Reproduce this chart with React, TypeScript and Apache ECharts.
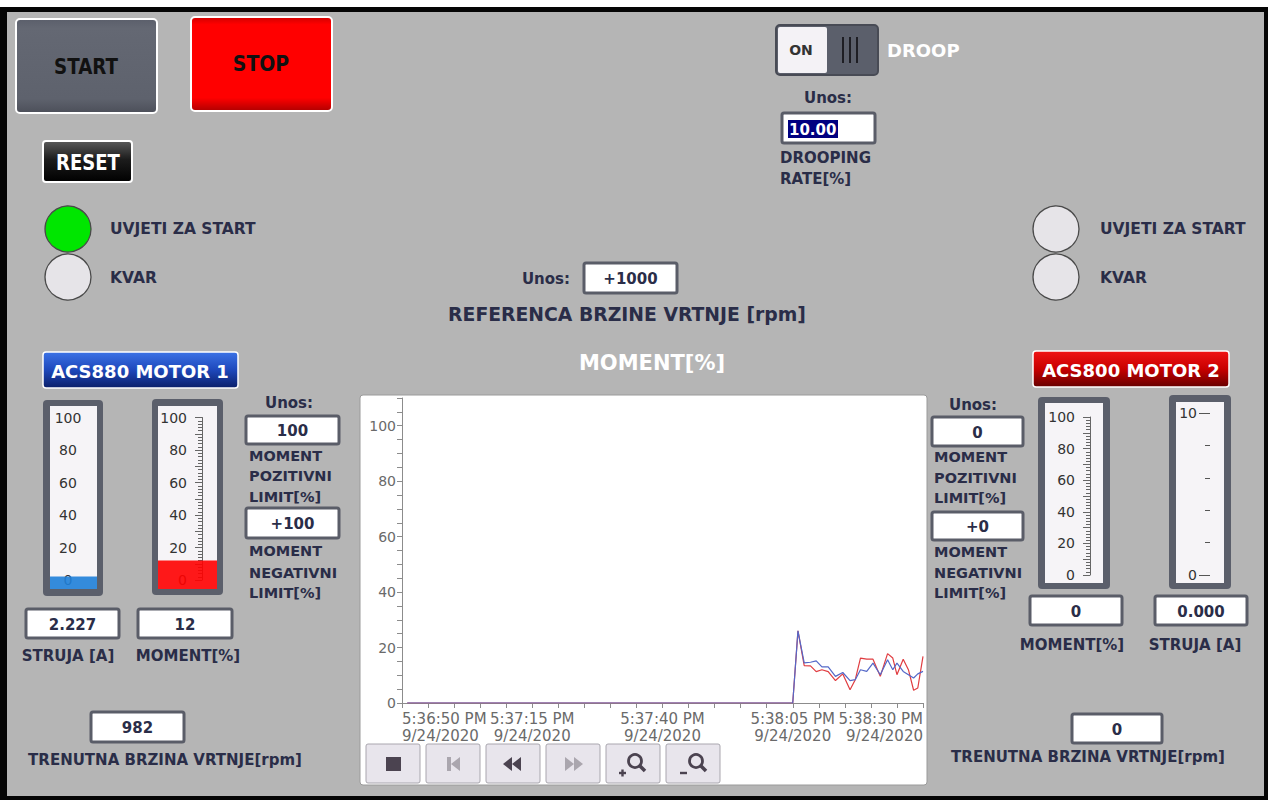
import React, { useEffect, useRef } from "react";
import * as echarts from "echarts";

// ---------------- data ----------------
const trendStartSeconds = 17 * 3600 + 36 * 60 + 50; // 5:36:50 PM
const trendDate = "9/24/2020";
const trendTimes = [1, 75, 76, 77.2, 78.4, 79.5, 80.6, 81.8, 83.2, 84.6, 86.0, 87.0, 88.0, 89.2, 90.4, 91.8, 93.2, 94.2, 95.0, 96.2, 97.2, 98.2, 99.0, 100];
const trendRed = [0, 0, 26, 13.5, 13.4, 11.3, 12.0, 11.3, 8.1, 10.5, 4.8, 8.4, 16.2, 15.8, 15.8, 9.6, 17.8, 16.2, 10.2, 15.8, 12.0, 4.6, 5.4, 16.8];
const trendBlue = [0, 0, 26, 14.5, 14.7, 15.2, 13.0, 13.0, 9.6, 11.0, 8.1, 8.4, 12.0, 11.4, 14.4, 10.2, 15.6, 12.0, 14.4, 11.4, 10.2, 9.0, 10.5, 11.4];
const trendXMax = 100;
const trendXStep = 25;
const trendYMax = 110;
const trendYLabelStep = 20;

const motor1Current = 2.227;
const motor1Moment = 12;
const motor1Speed = 982;
const motor1PosLimit = "100";
const motor1NegLimit = "+100";
const motor2Moment = 0;
const motor2Current = 0;
const motor2Speed = 0;
const motor2PosLimit = "0";
const motor2NegLimit = "+0";
const speedReference = "+1000";
const droopRate = "10.00";

const percentScale = [0, 100, 20]; // min, max, label step
const currentScale2 = [0, 10, 10];

// ---------------- styling helpers ----------------
const FONT = '"DejaVu Sans", Verdana, sans-serif';
const NAVY = "#2a2d48";

function pad2(n: number) {
  return n < 10 ? "0" + n : String(n);
}
function clockLabel(sec: number) {
  const total = Math.round(trendStartSeconds + sec);
  const h = Math.floor(total / 3600) % 24;
  const m = Math.floor((total % 3600) / 60);
  const s = total % 60;
  const h12 = h % 12 === 0 ? 12 : h % 12;
  return `${h12}:${pad2(m)}:${pad2(s)} ${h >= 12 ? "PM" : "AM"}\n${trendDate}`;
}

function txt(x: number, y: number, text: string, size: number, o: any = {}) {
  return {
    type: "text",
    x,
    y,
    z: 100,
    scaleX: o.scaleX || 1,
    silent: true,
    style: {
      text,
      fill: o.fill || NAVY,
      font: `${o.weight || "bold"} ${size}px ${FONT}`,
      align: o.align || "left",
      verticalAlign: "middle",
    },
  };
}
function rect(x0: number, y0: number, x1: number, y1: number, style: any, z = 5, r = 3) {
  return { type: "rect", z, shape: { x: x0, y: y0, width: x1 - x0, height: y1 - y0, r }, style };
}
function box(x0: number, y0: number, x1: number, y1: number, text: string, size = 15) {
  return [
    rect(x0, y0, x1, y1, { fill: "#ffffff", stroke: "#5a5d68", lineWidth: 3 }, 5, 2),
    txt((x0 + x1) / 2, (y0 + y1) / 2 + 1, text, size, { align: "center" }),
  ];
}
function vgrad(stops: [number, string][]) {
  return new echarts.graphic.LinearGradient(0, 0, 0, 1, stops.map(([offset, color]) => ({ offset, color })));
}

// gauge geometry (layout only)
const gauges = [
  { frame: [43, 400, 103, 596], inner: [50, 406, 97, 589], zeroY: 580, topY: 417.5, axisX: 50, axisW: 47, kind: "plain", color: "#1f7fd8" },
  { frame: [152, 399, 223, 595], inner: [158, 406, 217, 589], zeroY: 580, topY: 417.5, axisX: 202, axisW: 15, kind: "ruler", color: "#ff0000" },
  { frame: [1038, 397, 1110, 589], inner: [1045, 403, 1103, 583], zeroY: 575, topY: 417, axisX: 1090, axisW: 13, kind: "ruler", color: "#ff0000" },
  { frame: [1169, 395, 1231, 589], inner: [1176, 402, 1224, 583], zeroY: 575, topY: 413, axisX: 1210, axisW: 14, kind: "dash", color: "#1f7fd8" },
];
const gaugeValues = [motor1Current, motor1Moment, motor2Moment, motor2Current];
const gaugeScales = [percentScale, percentScale, percentScale, currentScale2];

export default function App() {
  const ref = useRef<HTMLDivElement>(null);
  useEffect(() => {
    if (!ref.current) return;
    const chart = echarts.init(ref.current, undefined, { renderer: "svg" });

    const grids: any[] = [{ left: 402, top: 398, width: 521, height: 305 }];
    const xAxes: any[] = [
      {
        type: "value",
        gridIndex: 0,
        min: 0,
        max: trendXMax,
        interval: trendXStep,
        axisLine: { show: true, lineStyle: { color: "#8c8c8c" } },
        axisTick: { show: true, length: 5, lineStyle: { color: "#8c8c8c" } },
        minorTick: { show: true, splitNumber: 5, length: 5, lineStyle: { color: "#8c8c8c" } },
        splitLine: { show: false },
        axisLabel: {
          formatter: (v: number) => clockLabel(v),
          color: "#6a6a6a",
          fontSize: 15,
          fontFamily: FONT,
          lineHeight: 17,
          margin: 7,
          alignMinLabel: "left",
          alignMaxLabel: "right",
        },
      },
    ];
    const yAxes: any[] = [
      {
        type: "value",
        gridIndex: 0,
        min: 0,
        max: trendYMax,
        interval: 10,
        axisLine: { show: true, lineStyle: { color: "#8c8c8c" } },
        axisTick: { show: true, length: 5, lineStyle: { color: "#8c8c8c" } },
        minorTick: { show: true, splitNumber: 2, length: 5, lineStyle: { color: "#8c8c8c" } },
        splitLine: { show: false },
        axisLabel: {
          formatter: (v: number) => (v % trendYLabelStep === 0 ? String(v) : ""),
          color: "#6a6a6a",
          fontSize: 14,
          fontFamily: FONT,
          margin: 6,
        },
      },
    ];
    const series: any[] = [
      {
        type: "line",
        xAxisIndex: 0,
        yAxisIndex: 0,
        data: trendTimes.map((t, i) => [t, trendRed[i]]),
        symbol: "none",
        lineStyle: { color: "#e03c40", width: 1.2 },
      },
      {
        type: "line",
        xAxisIndex: 0,
        yAxisIndex: 0,
        data: trendTimes.map((t, i) => [t, trendBlue[i]]),
        symbol: "none",
        lineStyle: { color: "#5468c8", width: 1.2 },
      },
    ];

    gauges.forEach((g, i) => {
      const [smin, smax, sstep] = gaugeScales[i];
      const ppu = (g.zeroY - g.topY) / (smax - smin);
      const [ix0, iy0, ix1, iy1] = g.inner;
      const barGrid = grids.length;
      grids.push({ left: ix0, top: iy0, width: ix1 - ix0, height: iy1 - iy0 });
      xAxes.push({ type: "category", gridIndex: barGrid, data: [""], show: false });
      const floorVal = smin - (iy1 - g.zeroY) / ppu;
      yAxes.push({ type: "value", gridIndex: barGrid, min: floorVal, max: smin + (g.zeroY - iy0) / ppu, show: false, splitLine: { show: false } });
      const v = gaugeValues[i];
      series.push({
        type: "bar",
        xAxisIndex: barGrid,
        yAxisIndex: barGrid,
        stack: "g" + i,
        barWidth: "100%",
        data: [v],
        itemStyle: { color: g.color, opacity: 0.9 },
        silent: true,
      });
      series.push({
        type: "bar",
        xAxisIndex: barGrid,
        yAxisIndex: barGrid,
        stack: "g" + i,
        barWidth: "100%",
        data: [v > smin ? floorVal : 0],
        itemStyle: { color: g.color, opacity: 0.9 },
        silent: true,
      });

      const axGrid = grids.length;
      grids.push({ left: g.axisX, top: g.topY, width: g.axisW, height: g.zeroY - g.topY });
      xAxes.push({ type: "value", gridIndex: axGrid, show: false });
      const base: any = {
        type: "value",
        gridIndex: axGrid,
        min: smin,
        max: smax,
        splitLine: { show: false },
      };
      if (g.kind === "plain") {
        yAxes.push({
          ...base,
          interval: sstep,
          axisLine: { show: false },
          axisTick: { show: false },
          axisLabel: { inside: true, margin: 18, align: "center", color: "#333", fontSize: 14, fontFamily: FONT },
        });
      } else if (g.kind === "ruler") {
        yAxes.push({
          ...base,
          interval: 10,
          axisLine: { show: true, lineStyle: { color: "#666", width: 1 } },
          axisTick: { show: true, length: 7, lineStyle: { color: "#666" } },
          minorTick: { show: true, splitNumber: 5, length: 4, lineStyle: { color: "#666" } },
          axisLabel: {
            formatter: (val: number) => (val % sstep === 0 ? String(val) : ""),
            margin: 15,
            color: "#333",
            fontSize: 14,
            fontFamily: FONT,
          },
        });
      } else {
        yAxes.push({
          ...base,
          interval: sstep,
          axisLine: { show: false },
          axisTick: { show: true, length: 11, lineStyle: { color: "#555" } },
          minorTick: { show: true, splitNumber: 5, length: 5, lineStyle: { color: "#555" } },
          axisLabel: { margin: 13, color: "#333", fontSize: 14, fontFamily: FONT },
        });
      }
    });

    const gfx: any[] = [];
    // page frame
    gfx.push(rect(0, 7, 1268, 800, { fill: "#050505" }, -30, 0));
    gfx.push(rect(7, 12, 1264, 796, { fill: "#b5b5b5" }, -29, 0));

    // START / STOP / RESET
    gfx.push(rect(16, 19, 157, 113, { fill: vgrad([[0, "#5b5f6b"], [0.1, "#646873"], [0.85, "#5e626d"], [1, "#4c4f59"]]), stroke: "#ffffff", lineWidth: 2 }, 5, 4));
    gfx.push(txt(86, 67, "START", 21, { align: "center", fill: "#111", scaleX: 0.87 }));
    gfx.push(rect(191, 17, 332, 111, { fill: vgrad([[0, "#d00000"], [0.08, "#ff0000"], [0.86, "#ff0000"], [1, "#b00000"]]), stroke: "#ffffff", lineWidth: 2 }, 5, 4));
    gfx.push(txt(261, 64, "STOP", 21, { align: "center", fill: "#111", scaleX: 0.9 }));
    gfx.push(rect(43, 141, 132, 182, { fill: vgrad([[0, "#5a5a5a"], [0.45, "#1c1c1c"], [1, "#000000"]]), stroke: "#ffffff", lineWidth: 2 }, 5, 3));
    gfx.push(txt(88, 162, "RESET", 22, { align: "center", fill: "#ffffff", scaleX: 0.82 }));

    // status lights
    const lights = [
      [68, 229, "#00e600"],
      [68, 277, "#e6e4e8"],
      [1056, 229, "#e6e4e8"],
      [1056, 277, "#e6e4e8"],
    ];
    lights.forEach(([cx, cy, fill]: any) => {
      gfx.push({ type: "circle", z: 5, shape: { cx, cy, r: 23 }, style: { fill, stroke: "#4a4a4a", lineWidth: 1.3 } });
    });
    gfx.push(txt(110, 229, "UVJETI ZA START", 15.5));
    gfx.push(txt(110, 278, "KVAR", 15.5));
    gfx.push(txt(1100, 229, "UVJETI ZA START", 15.5));
    gfx.push(txt(1100, 278, "KVAR", 15.5));

    // DROOP toggle
    gfx.push(rect(776, 25, 878, 75, { fill: "#5b5f6b", stroke: "#484b55", lineWidth: 2 }, 5, 4));
    gfx.push(rect(778, 27, 827, 73, { fill: "#f4f2f6" }, 6, 2));
    gfx.push(txt(801, 50, "ON", 14, { align: "center", fill: "#333" }));
    [843, 850, 857].forEach((x) => {
      gfx.push({ type: "line", z: 7, shape: { x1: x, y1: 37, x2: x, y2: 63 }, style: { stroke: "#1e1e24", lineWidth: 2 } });
    });
    gfx.push(txt(887, 50, "DROOP", 18, { fill: "#ffffff" }));
    gfx.push(txt(828, 98, "Unos:", 15, { align: "center" }));
    gfx.push(rect(782, 113, 875, 143, { fill: "#ffffff", stroke: "#5a5d68", lineWidth: 3 }, 5, 2));
    gfx.push(rect(788, 120, 838, 138, { fill: "#000080" }, 6, 0));
    gfx.push(txt(789, 130, droopRate, 15, { fill: "#ffffff" }));
    gfx.push(txt(780, 158, "DROOPING", 15));
    gfx.push(txt(780, 179, "RATE[%]", 15));

    // speed reference
    gfx.push(txt(570, 279, "Unos:", 15, { align: "right" }));
    gfx.push(...box(584, 263, 677, 293, speedReference));
    gfx.push(txt(627, 314, "REFERENCA BRZINE VRTNJE [rpm]", 20, { align: "center", scaleX: 0.94 }));

    // chart title and panel
    gfx.push(txt(652, 363, "MOMENT[%]", 21, { align: "center", fill: "#ffffff" }));
    gfx.push(rect(360, 395, 927, 785, { fill: "#ffffff", stroke: "#9a9a9a", lineWidth: 1 }, -20, 3));

    // trend toolbar
    const btnX = [366, 426, 486, 546, 606, 666];
    btnX.forEach((x) => gfx.push(rect(x, 744, x + 54, 783, { fill: "#e8e5ec", stroke: "#a9a6ae", lineWidth: 1 }, 5, 2)));
    const dark = "#4b4350";
    const dim = "#aaa6ae";
    gfx.push(rect(386, 757, 401, 771, { fill: dark }, 6, 0));
    gfx.push(rect(447, 757, 451, 771, { fill: dim }, 6, 0));
    gfx.push({ type: "polygon", z: 6, shape: { points: [[451, 764], [460, 757], [460, 771]] }, style: { fill: dim } });
    gfx.push({ type: "polygon", z: 6, shape: { points: [[503, 764], [512, 757], [512, 771]] }, style: { fill: dark } });
    gfx.push({ type: "polygon", z: 6, shape: { points: [[512, 764], [521, 757], [521, 771]] }, style: { fill: dark } });
    gfx.push({ type: "polygon", z: 6, shape: { points: [[583, 764], [574, 757], [574, 771]] }, style: { fill: dim } });
    gfx.push({ type: "polygon", z: 6, shape: { points: [[574, 764], [565, 757], [565, 771]] }, style: { fill: dim } });
    [[635, 761, "+"], [696, 761, "-"]].forEach(([cx, cy, sign]: any) => {
      gfx.push({ type: "circle", z: 6, shape: { cx, cy, r: 6.5 }, style: { fill: "none", stroke: dark, lineWidth: 2.8 } });
      gfx.push({ type: "line", z: 6, shape: { x1: cx + 4, y1: cy + 4, x2: cx + 10, y2: cy + 10 }, style: { stroke: dark, lineWidth: 3.5 } });
      gfx.push({ type: "line", z: 6, shape: { x1: cx - 16, y1: cy + 12, x2: cx - 9, y2: cy + 12 }, style: { stroke: dark, lineWidth: 2.4 } });
      if (sign === "+") {
        gfx.push({ type: "line", z: 6, shape: { x1: cx - 12.5, y1: cy + 8.5, x2: cx - 12.5, y2: cy + 15.5 }, style: { stroke: dark, lineWidth: 2.4 } });
      }
    });

    // motor labels
    gfx.push(rect(43, 352, 238, 388, { fill: vgrad([[0, "#3b72e6"], [0.5, "#1e48bb"], [1, "#0b1f6a"]]), stroke: "#ffffff", lineWidth: 1.5 }, 5, 3));
    gfx.push(txt(140, 371, "ACS880 MOTOR 1", 18, { align: "center", fill: "#ffffff" }));
    gfx.push(rect(1033, 351, 1229, 387, { fill: vgrad([[0, "#f01414"], [0.5, "#c80000"], [1, "#660000"]]), stroke: "#ffffff", lineWidth: 1.5 }, 5, 3));
    gfx.push(txt(1131, 370, "ACS800 MOTOR 2", 18, { align: "center", fill: "#ffffff" }));

    // gauge frames
    gauges.forEach((g) => {
      const [fx0, fy0, fx1, fy1] = g.frame;
      const [ix0, iy0, ix1, iy1] = g.inner;
      gfx.push(rect(fx0, fy0, fx1, fy1, { fill: "#5b5f6b" }, -15, 4));
      gfx.push(rect(ix0, iy0, ix1, iy1, { fill: "#f6f4f7" }, -14, 0));
    });

    // motor 1 fields
    gfx.push(...box(26, 609, 119, 638, motor1Current.toFixed(3)));
    gfx.push(...box(138, 609, 232, 638, String(motor1Moment)));
    gfx.push(txt(68, 656, "STRUJA [A]", 15, { align: "center" }));
    gfx.push(txt(188, 656, "MOMENT[%]", 15, { align: "center" }));
    gfx.push(txt(289, 403, "Unos:", 15, { align: "center" }));
    gfx.push(...box(246, 416, 339, 444, motor1PosLimit));
    gfx.push(txt(249, 456, "MOMENT", 14.5));
    gfx.push(txt(249, 476, "POZITIVNI", 14.5));
    gfx.push(txt(249, 497, "LIMIT[%]", 14.5));
    gfx.push(...box(246, 508, 339, 538, motor1NegLimit));
    gfx.push(txt(249, 551, "MOMENT", 14.5));
    gfx.push(txt(249, 573, "NEGATIVNI", 14.5));
    gfx.push(txt(249, 593, "LIMIT[%]", 14.5));
    gfx.push(...box(91, 712, 184, 742, String(motor1Speed)));
    gfx.push(txt(165, 760, "TRENUTNA BRZINA VRTNJE[rpm]", 15, { align: "center" }));

    // motor 2 fields
    gfx.push(txt(973, 405, "Unos:", 15, { align: "center" }));
    gfx.push(...box(932, 417, 1023, 446, motor2PosLimit));
    gfx.push(txt(934, 457, "MOMENT", 14.5));
    gfx.push(txt(934, 478, "POZITIVNI", 14.5));
    gfx.push(txt(934, 498, "LIMIT[%]", 14.5));
    gfx.push(...box(932, 512, 1023, 540, motor2NegLimit));
    gfx.push(txt(934, 552, "MOMENT", 14.5));
    gfx.push(txt(934, 573, "NEGATIVNI", 14.5));
    gfx.push(txt(934, 593, "LIMIT[%]", 14.5));
    gfx.push(...box(1030, 596, 1122, 625, String(motor2Moment)));
    gfx.push(...box(1155, 596, 1247, 625, motor2Current.toFixed(3)));
    gfx.push(txt(1072, 645, "MOMENT[%]", 15, { align: "center" }));
    gfx.push(txt(1195, 645, "STRUJA [A]", 15, { align: "center" }));
    gfx.push(...box(1072, 714, 1162, 743, String(motor2Speed)));
    gfx.push(txt(1088, 757, "TRENUTNA BRZINA VRTNJE[rpm]", 15, { align: "center" }));

    chart.setOption({
      animation: false,
      backgroundColor: "#ffffff",
      grid: grids.map((g) => ({ ...g, containLabel: false })),
      xAxis: xAxes,
      yAxis: yAxes,
      series,
      graphic: { elements: gfx },
    });
    return () => chart.dispose();
  }, []);
  return <div ref={ref} style={{ position: "absolute", left: 0, top: 0, width: 1268, height: 800 }} />;
}
